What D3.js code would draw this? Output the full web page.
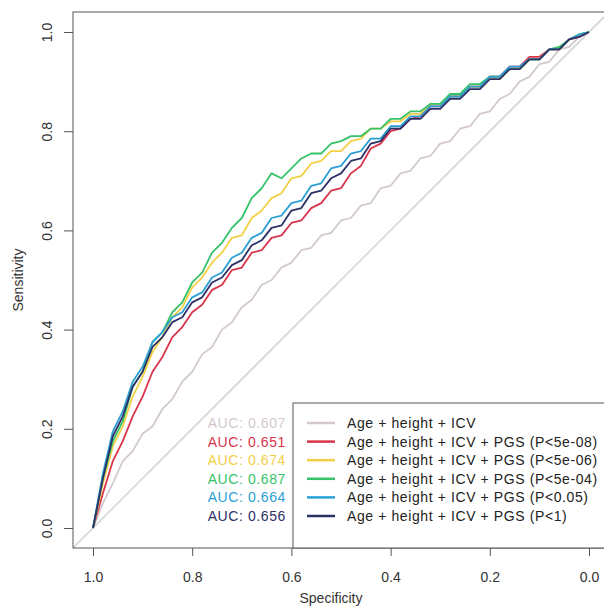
<!DOCTYPE html>
<html lang="en">
<head>
    <meta charset="UTF-8">
    <title>ROC curves</title>
    <style>
        body, html {
            margin: 0;
            background-color: #fff;
            font-family: "Liberation Sans", Arial, sans-serif;
        }
        svg text { fill: #333; }
    </style>
    <script src="https://d3js.org/d3.v7.min.js"></script>
</head>
<body>
    <div id="chart"></div>
    <script>
        // shared specificity grid, 1.00 down to 0.00
        const specificity = d3.range(50, -1, -1).map(i => i / 50);

        const sensGray   = [0,0.05,0.09,0.135,0.155,0.19,0.205,0.24,0.26,0.295,0.315,0.35,0.365,0.40,0.415,0.445,0.46,0.49,0.50,0.525,0.535,0.56,0.565,0.59,0.595,0.62,0.625,0.65,0.655,0.685,0.69,0.715,0.72,0.745,0.75,0.775,0.78,0.805,0.81,0.835,0.84,0.865,0.875,0.90,0.91,0.935,0.94,0.965,0.97,0.99,1];
        const sensRed    = [0,0.07,0.135,0.175,0.225,0.265,0.315,0.345,0.385,0.405,0.435,0.45,0.48,0.49,0.52,0.525,0.555,0.56,0.585,0.59,0.615,0.62,0.645,0.655,0.68,0.685,0.715,0.73,0.765,0.775,0.80,0.805,0.825,0.83,0.85,0.85,0.87,0.87,0.89,0.89,0.91,0.91,0.93,0.93,0.95,0.95,0.965,0.965,0.985,0.99,1];
        const sensYellow = [0,0.09,0.165,0.205,0.265,0.305,0.355,0.385,0.425,0.445,0.485,0.505,0.535,0.555,0.585,0.59,0.625,0.64,0.665,0.675,0.705,0.71,0.735,0.74,0.76,0.76,0.78,0.785,0.805,0.805,0.82,0.82,0.835,0.835,0.855,0.855,0.87,0.87,0.89,0.89,0.905,0.905,0.925,0.925,0.945,0.945,0.965,0.965,0.985,0.995,1];
        const sensGreen  = [0,0.10,0.175,0.215,0.285,0.315,0.375,0.395,0.435,0.455,0.495,0.515,0.555,0.575,0.605,0.625,0.665,0.685,0.715,0.705,0.725,0.745,0.755,0.755,0.775,0.78,0.79,0.79,0.805,0.805,0.825,0.825,0.84,0.84,0.855,0.855,0.875,0.875,0.895,0.895,0.91,0.91,0.925,0.925,0.945,0.945,0.965,0.97,0.985,0.995,1];
        const sensBlue   = [0,0.11,0.195,0.235,0.295,0.325,0.375,0.395,0.425,0.435,0.465,0.475,0.505,0.515,0.545,0.555,0.585,0.595,0.625,0.63,0.655,0.66,0.69,0.695,0.725,0.73,0.755,0.76,0.785,0.785,0.81,0.81,0.83,0.83,0.85,0.85,0.87,0.87,0.89,0.89,0.91,0.91,0.93,0.93,0.945,0.945,0.965,0.965,0.985,0.995,1];
        const sensNavy   = [0,0.10,0.185,0.225,0.285,0.315,0.365,0.385,0.415,0.425,0.455,0.465,0.495,0.505,0.53,0.54,0.57,0.58,0.605,0.61,0.64,0.645,0.675,0.68,0.705,0.715,0.74,0.745,0.775,0.78,0.805,0.805,0.825,0.825,0.845,0.845,0.865,0.865,0.885,0.885,0.905,0.905,0.925,0.925,0.945,0.945,0.965,0.965,0.985,0.99,1];

        const models = ["Age + height + ICV",
                        "Age + height + ICV + PGS (P<5e-08)",
                        "Age + height + ICV + PGS (P<5e-06)",
                        "Age + height + ICV + PGS (P<5e-04)",
                        "Age + height + ICV + PGS (P<0.05)",
                        "Age + height + ICV + PGS (P<1)"];
        const aucs = ["0.607", "0.651", "0.674", "0.687", "0.664", "0.656"];
        const colors = ["#d3c9cc", "#d8344a", "#f3cf45", "#36c268", "#2b9fd4", "#2c3166"];
        const series = [sensGray, sensRed, sensYellow, sensGreen, sensBlue, sensNavy];
        const ticks = [1.0, 0.8, 0.6, 0.4, 0.2, 0.0];

        const width = 604, height = 616;
        const fontSize = 14;
        const svg = d3.select("#chart").append("svg")
            .attr("width", width)
            .attr("height", height);

        // pROC style: specificity reversed on x
        const x = d3.scaleLinear().domain([1, 0]).range([93, 589]);
        const y = d3.scaleLinear().domain([0, 1]).range([528, 32]);
        const box = { left: 73, top: 12, right: 609, bottom: 548 };

        svg.append("clipPath").attr("id", "clip")
            .append("rect")
            .attr("x", box.left).attr("y", box.top)
            .attr("width", box.right - box.left).attr("height", box.bottom - box.top);

        // diagonal reference line
        svg.append("line")
            .attr("clip-path", "url(#clip)")
            .attr("x1", x(1.05)).attr("y1", y(-0.05))
            .attr("x2", x(-0.05)).attr("y2", y(1.05))
            .attr("stroke", "#d6d6d6")
            .attr("stroke-width", 1.6);

        const line = d3.line()
            .x(d => x(d[0]))
            .y(d => y(d[1]));

        svg.append("g")
            .selectAll("path")
            .data(series)
            .enter().append("path")
            .attr("d", s => line(specificity.map((sp, i) => [sp, s[i]])))
            .attr("fill", "none")
            .attr("stroke", (d, i) => colors[i])
            .attr("stroke-width", 1.8)
            .attr("stroke-linejoin", "round");

        // axes
        const xAxis = svg.append("g")
            .attr("transform", `translate(0,${box.bottom})`)
            .call(d3.axisBottom(x).tickValues(ticks).tickFormat(d3.format(".1f")).tickSize(8));
        const yAxis = svg.append("g")
            .attr("transform", `translate(${box.left},0)`)
            .call(d3.axisLeft(y).tickValues(ticks).tickFormat(d3.format(".1f")).tickSize(9));

        [xAxis, yAxis].forEach(g => {
            g.select(".domain").remove();
            g.selectAll("line").attr("stroke", "#555");
            g.selectAll("text")
                .attr("font-family", "Liberation Sans, Arial, sans-serif")
                .attr("font-size", fontSize)
                .style("fill", "#333");
        });
        xAxis.selectAll(".tick text")
            .attr("y", 29).attr("dy", "0.35em");
        yAxis.selectAll(".tick text")
            .attr("text-anchor", "middle")
            .attr("x", null)
            .attr("transform", "translate(-26,0) rotate(-90)")
            .attr("dy", "0.35em");

        // plot box
        svg.append("rect")
            .attr("x", box.left).attr("y", box.top)
            .attr("width", box.right - box.left).attr("height", box.bottom - box.top)
            .attr("fill", "none")
            .attr("stroke", "#555")
            .attr("stroke-width", 1);

        svg.append("text")
            .attr("x", 331).attr("y", 598)
            .attr("dy", "0.35em")
            .attr("text-anchor", "middle")
            .attr("font-size", fontSize)
            .text("Specificity");
        svg.append("text")
            .attr("transform", "translate(18,280) rotate(-90)")
            .attr("dy", "0.35em")
            .attr("text-anchor", "middle")
            .attr("font-size", fontSize)
            .text("Sensitivity");

        // legend
        const legend = svg.append("g");
        legend.append("rect")
            .attr("x", 293).attr("y", 403)
            .attr("width", box.right - 293).attr("height", box.bottom - 403)
            .attr("fill", "#fff")
            .attr("stroke", "#555");

        const rowY = i => 423 + i * 18.6;
        models.forEach((m, i) => {
            legend.append("line")
                .attr("x1", 307).attr("x2", 335)
                .attr("y1", rowY(i)).attr("y2", rowY(i))
                .attr("stroke", colors[i])
                .attr("stroke-width", 2.5);
            legend.append("text")
                .attr("x", 347).attr("y", rowY(i))
                .attr("dy", "0.35em")
                .attr("font-size", fontSize)
                .attr("letter-spacing", 0.6)
                .style("fill", "#222")
                .text(m);
            legend.append("text")
                .attr("x", 286).attr("y", rowY(i))
                .attr("dy", "0.35em")
                .attr("text-anchor", "end")
                .attr("font-size", fontSize)
                .attr("letter-spacing", 0.6)
                .style("fill", colors[i])
                .text("AUC: " + aucs[i]);
        });
    </script>
</body>
</html>
